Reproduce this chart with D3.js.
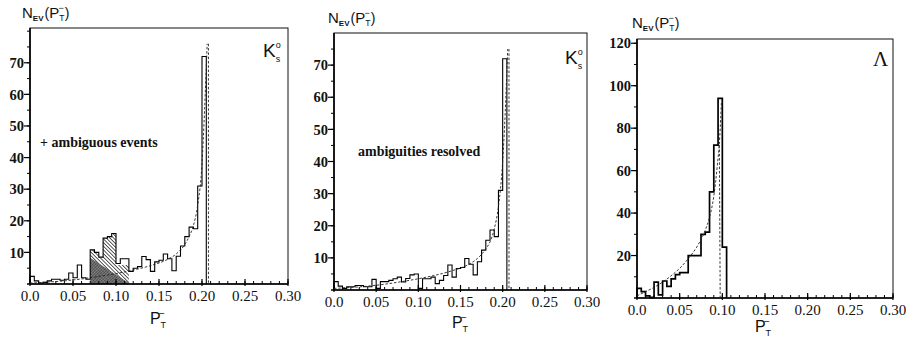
<!DOCTYPE html>
<html><head><meta charset="utf-8">
<script src="https://cdn.jsdelivr.net/npm/d3@7/dist/d3.min.js"></script>
<style>
body{margin:0;background:#fff}svg{display:block}
.serif{font-family:"Liberation Serif","Times New Roman","DejaVu Serif","Noto Serif",Times,serif}
.sans{font-family:"Liberation Sans",Arial,"DejaVu Sans",sans-serif}
</style>
</head><body>
<svg id="c" width="922" height="345"></svg>
<script>
// ---- data ----
const binWidth = 0.005;
const xTicks = [0, 0.05, 0.10, 0.15, 0.20, 0.25, 0.30];
const xTickLabels = ["0.0", "0.05", "0.10", "0.15", "0.20", "0.25", "0.30"];
const yTicksK = [10, 20, 30, 40, 50, 60, 70];
const yTicksL = [20, 40, 60, 80, 100, 120];

// K0s with ambiguous events (panel 1), 0.005 bins from 0
const k0Amb = [2.4, 1, 0.3, 0.5, 1, 1.5, 1.5, 1.2, 1.5, 3.5, 2, 6, 2, 1.5,
  10.8, 10, 8.5, 14.5, 15, 16, 6.5, 8, 8,
  4, 5, 5.5, 8.7, 7.7, 4, 7, 7.5, 9.5, 8, 4.2, 8.8, 12, 15, 18, 17.5, 31, 72];
// hatched ambiguous region: starting bin and tops
const ambStartBin = 14;
const ambTop = [10.8, 10, 8.5, 14.5, 15, 16, 6, 6, 6];
const ambDenseEdge = [[0.072, 8.3], [0.115, 0.3]];

// K0s ambiguities resolved (panel 2)
const k0Res = [2.6, 1.2, 0.5, 1, 1, 1.4, 1.4, 1, 1, 3.3, 0.5, 2.6, 2.6, 3, 3.5, 4, 2.5, 3.6, 4.7, 5,
  0.5, 3.5, 3.5, 4, 2, 3, 4.5, 7.8, 4, 6.7, 7, 9.8, 8, 4.7, 8.8, 12.4, 15.5, 18.7, 16.6, 31, 72];

// Lambda (panel 3)
const lam = [4.5, 3, 1, 0.3, 7.5, 1.5, 8, 5.5, 9, 11, 12, 12, 20, 20, 20, 30, 31, 50, 72, 94, 24];

// fitted (dashed) curves
const fitK1 = [[0,0.3],[0.02,0.6],[0.04,1],[0.06,1.6],[0.08,2.4],[0.10,3.3],[0.12,4.4],[0.14,5.8],[0.16,7.8],[0.17,9.5],[0.18,12.5],[0.185,15],[0.19,18.5],[0.195,25],[0.2,38],[0.203,55],[0.206,76]];
const fitK2 = [[0,0.5],[0.02,0.8],[0.04,1.2],[0.06,1.8],[0.08,2.6],[0.10,3.5],[0.12,4.6],[0.14,6],[0.16,8],[0.17,9.8],[0.18,12.8],[0.185,15],[0.19,19],[0.195,26],[0.2,40],[0.203,55],[0.206,75]];
const dropK1 = [[0.2075, 76], [0.2075, 0]];
const dropK2 = [[0.2075, 75], [0.2075, 0]];
const fitL = [[0,1],[0.01,3],[0.02,5],[0.03,7.5],[0.04,10.5],[0.05,14],[0.06,18.5],[0.07,24],[0.08,32],[0.085,38],[0.09,48],[0.094,62],[0.097,76],[0.099,93]];
const dropL = [[0.0965, 72], [0.0975, 0]];

// ---- drawing ----
const svg = d3.select("#c");

const defs = svg.append("defs");
const pat = defs.append("pattern").attr("id","hatch").attr("patternUnits","userSpaceOnUse")
  .attr("width",2.6).attr("height",2.6).attr("patternTransform","rotate(-45)");
pat.append("rect").attr("width",2.6).attr("height",2.6).attr("fill","#fff");
pat.append("line").attr("x1",0).attr("y1",0).attr("x2",0).attr("y2",2.6).attr("stroke","#111").attr("stroke-width",1.4);
const pat2 = defs.append("pattern").attr("id","dense").attr("patternUnits","userSpaceOnUse")
  .attr("width",2).attr("height",2).attr("patternTransform","rotate(45)");
pat2.append("rect").attr("width",2).attr("height",2).attr("fill","#777");
pat2.append("line").attr("x1",0).attr("y1",0).attr("x2",0).attr("y2",2).attr("stroke","#111").attr("stroke-width",1);

const panels = [
  {L:30, R:288, T:28, B:284, ymax:81, yt:yTicksK, ym:5, vals:k0Amb, fit:fitK1, drop:dropK1, title:[22,18], xt:[158,324], sw:1.1,
   note:{t:"+ ambiguous events", x:40, y:147}, label:{k:"K", x:263, y:57}, amb:true},
  {L:334, R:587, T:33, B:290, ymax:80, yt:yTicksK, ym:5, vals:k0Res, fit:fitK2, drop:dropK2, title:[328,23], xt:[460,328], sw:1.1,
   note:{t:"ambiguities resolved", x:358, y:156}, label:{k:"K", x:565, y:64}},
  {L:637, R:893, T:39, B:298, ymax:122, yt:yTicksL, ym:10, vals:lam, fit:fitL, drop:dropL, title:[632,28], xt:[763,332], sw:1.7,
   label:{k:"Λ", x:873, y:66}}
];

panels.forEach(p => {
  const x = d3.scaleLinear().domain([0,0.30]).range([p.L,p.R]);
  const y = d3.scaleLinear().domain([0,p.ymax]).range([p.B,p.T]);
  const g = svg.append("g");

  // hatched ambiguous events
  if (p.amb) {
    const pts = [];
    ambTop.forEach((v,i) => {
      const x0 = (ambStartBin+i)*binWidth, x1 = x0+binWidth;
      pts.push([x(x0), y(v)], [x(x1), y(v)]);
    });
    const xa = ambStartBin*binWidth, xb = (ambStartBin+ambTop.length)*binWidth;
    const poly = [[x(xa), y(0)], ...pts, [x(xb), y(0)]];
    g.append("path").attr("d", d3.line()(poly)).attr("fill","url(#hatch)").attr("stroke","none");
    const cp = defs.append("clipPath").attr("id","ampclip");
    cp.append("path").attr("d", d3.line()(poly));
    const dpoly = [[x(xa), y(0)], [x(xa), y(ambDenseEdge[0][1])], [x(ambDenseEdge[1][0]), y(ambDenseEdge[1][1])], [x(ambDenseEdge[1][0]), y(0)]];
    g.append("path").attr("d", d3.line()(dpoly)).attr("fill","url(#dense)").attr("clip-path","url(#ampclip)").attr("opacity",0.9);
  }

  // frame
  g.append("rect").attr("x",p.L).attr("y",p.T).attr("width",p.R-p.L).attr("height",p.B-p.T)
    .attr("fill","none").attr("stroke","#111").attr("stroke-width",1);
  g.append("line").attr("x1",p.L).attr("x2",p.L).attr("y1",p.T).attr("y2",p.B).attr("stroke","#000").attr("stroke-width",1.6);
  g.append("line").attr("x1",p.L-3).attr("x2",p.R).attr("y1",p.B).attr("y2",p.B).attr("stroke","#000").attr("stroke-width",1.4);

  // x ticks
  const minorX = d3.range(0, 0.3001, 0.01);
  g.selectAll(null).data(minorX).join("line")
    .attr("x1",d=>x(d)).attr("x2",d=>x(d)).attr("y1",p.B).attr("y2",p.B-3)
    .attr("stroke","#000").attr("stroke-width",1);
  g.selectAll(null).data(xTicks).join("line")
    .attr("x1",d=>x(d)).attr("x2",d=>x(d)).attr("y1",p.B+2).attr("y2",p.B-5)
    .attr("stroke","#000").attr("stroke-width",1.2);
  g.selectAll(null).data(xTicks).join("text").attr("class","serif")
    .attr("x",d=>x(d)).attr("y",p.B+16.5).attr("text-anchor","middle")
    .attr("font-size",15).attr("fill","#111")
    .text((d,i)=>xTickLabels[i]);

  // y ticks
  const minorY = d3.range(p.ym, p.ymax, p.ym);
  g.selectAll(null).data(minorY).join("line")
    .attr("x1",p.L).attr("x2",p.L-3).attr("y1",d=>y(d)).attr("y2",d=>y(d))
    .attr("stroke","#000").attr("stroke-width",1);
  g.selectAll(null).data(p.yt).join("line")
    .attr("x1",p.L).attr("x2",p.L-6).attr("y1",d=>y(d)).attr("y2",d=>y(d))
    .attr("stroke","#000").attr("stroke-width",1.2);
  g.selectAll(null).data(p.yt).join("text").attr("class","serif")
    .attr("x",p.L-6).attr("y",d=>y(d)).attr("dy","0.36em").attr("text-anchor","end")
    .attr("font-size",14.5).attr("font-weight","bold").attr("fill","#111")
    .text(d=>d);

  // histogram step outline
  const steps = [[x(0), y(0)]];
  p.vals.forEach((v,i) => {
    steps.push([x(i*binWidth), y(v)], [x((i+1)*binWidth), y(v)]);
  });
  steps.push([x(p.vals.length*binWidth), y(0)]);
  g.append("path").attr("d", d3.line()(steps)).attr("fill","none")
    .attr("stroke","#000").attr("stroke-width",p.sw);

  // fitted curve (dashed)
  const ln = d3.line().x(d=>x(d[0])).y(d=>y(d[1])).curve(d3.curveMonotoneX);
  g.append("path").attr("d", ln(p.fit)).attr("fill","none").attr("stroke","#222")
    .attr("stroke-width",0.9).attr("stroke-dasharray","2.5,1.8");
  g.append("path").attr("d", d3.line().x(d=>x(d[0])).y(d=>y(d[1]))(p.drop)).attr("fill","none").attr("stroke","#222")
    .attr("stroke-width",0.9).attr("stroke-dasharray","2.5,1.8");

  // y-axis title N_EV(P_T^-)
  const t = g.append("text").attr("class","sans").attr("x",p.title[0]).attr("y",p.title[1]).attr("fill","#111");
  t.append("tspan").attr("font-size",15).text("N");
  t.append("tspan").attr("font-size",8).attr("dy",3).attr("font-weight","bold").text("EV");
  t.append("tspan").attr("font-size",14).attr("dy",-3).attr("dx",1).text("(");
  t.append("tspan").attr("font-size",15).text("P");
  t.append("tspan").attr("font-size",8.5).attr("dy",3).text("T");
  t.append("tspan").attr("font-size",9).attr("dy",-10).attr("dx",-6).text("−");
  t.append("tspan").attr("font-size",14).attr("dy",7).attr("dx",1).text(")");

  // x-axis title P_T^-
  const xt = g.append("text").attr("class","sans").attr("x",p.xt[0]).attr("y",p.xt[1]).attr("text-anchor","middle").attr("fill","#111");
  xt.append("tspan").attr("font-size",16).text("P");
  xt.append("tspan").attr("font-size",9).attr("dy",4).text("T");
  xt.append("tspan").attr("font-size",10).attr("dy",-11).attr("dx",-7).text("−");

  // particle label
  if (p.label.k === "K") {
    const kt = g.append("text").attr("class","sans").attr("x",p.label.x).attr("y",p.label.y).attr("fill","#111");
    kt.append("tspan").attr("font-size",19).text("K");
    kt.append("tspan").attr("font-size",9).attr("dy",-9).text("o");
    kt.append("tspan").attr("font-size",9).attr("dy",14).attr("dx",-5).text("s");
  } else {
    g.append("text").attr("class","serif").attr("x",p.label.x).attr("y",p.label.y)
      .attr("font-size",21).attr("fill","#111").text(p.label.k);
  }

  if (p.note) {
    g.append("text").attr("class","serif").attr("x",p.note.x).attr("y",p.note.y)
      .attr("font-size",14).attr("font-weight","bold").attr("fill","#111").text(p.note.t);
  }
});
</script>
</body></html>
